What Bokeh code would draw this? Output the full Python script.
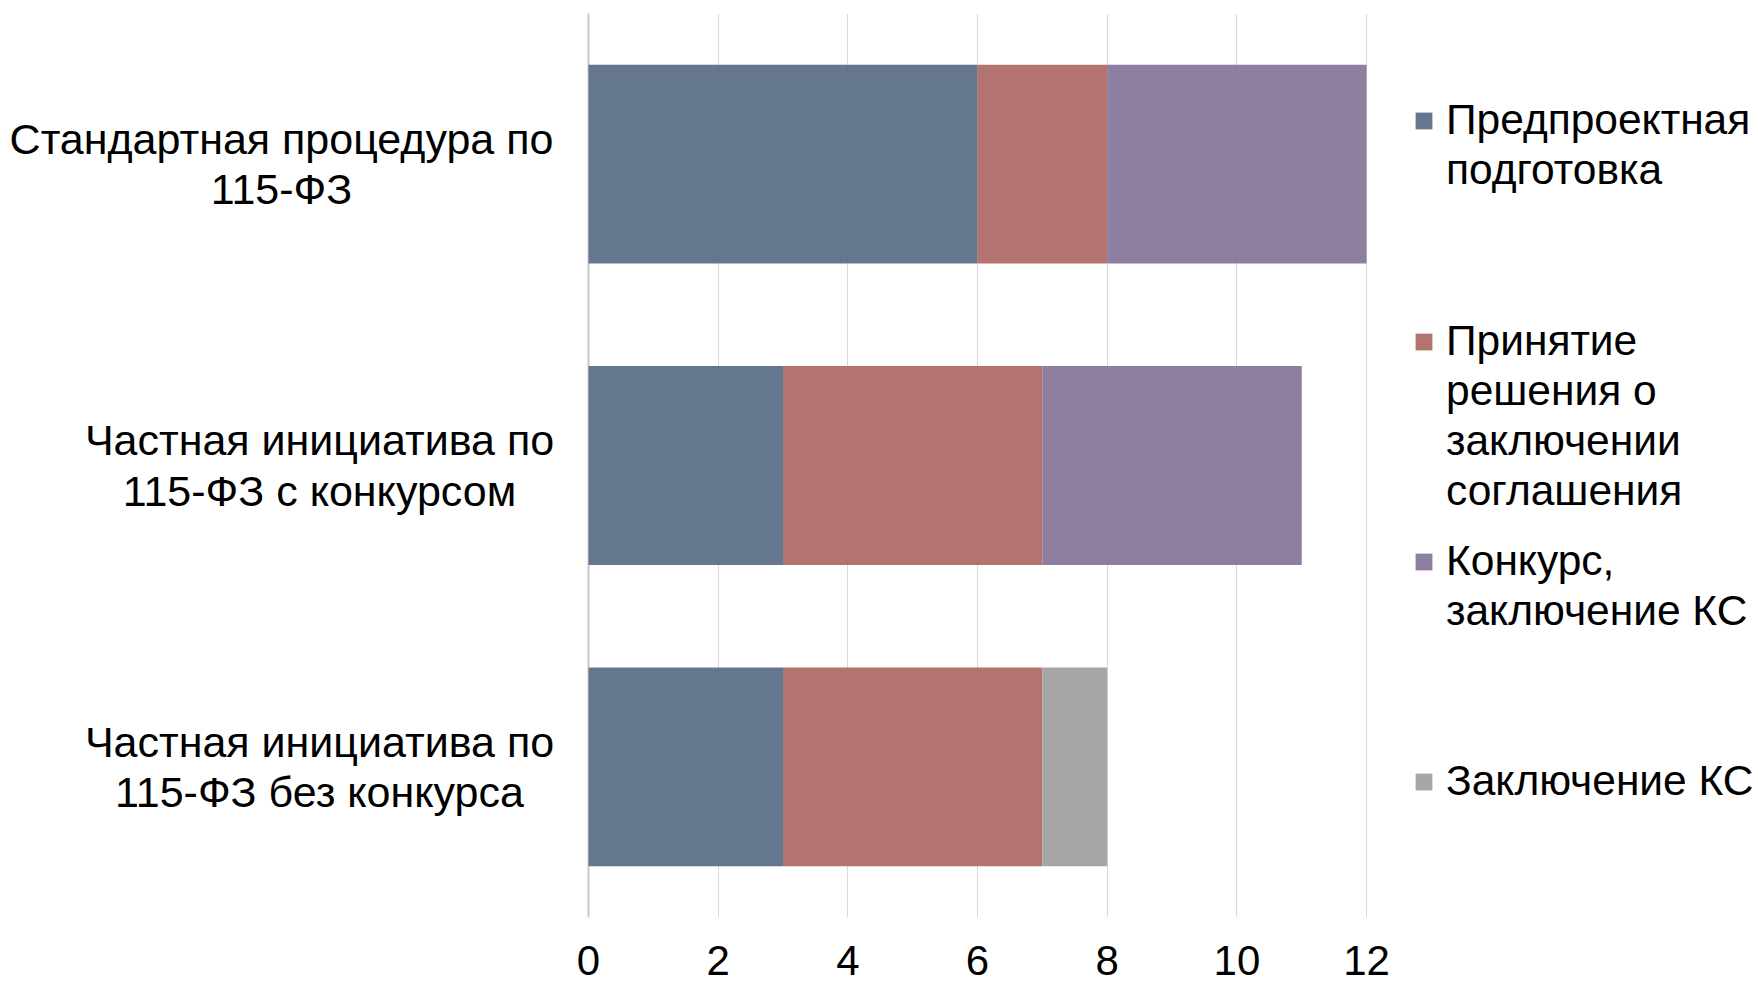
from bokeh.plotting import figure
from bokeh.models import (ColumnDataSource, FactorRange, Range1d, FixedTicker,
                          Legend, LegendItem, Span)
from bokeh.core.properties import value
from bokeh.embed import file_html
from bokeh.resources import INLINE

# ---- data ----
categories = ["Стандартная процедура по\n115-ФЗ",
              "Частная инициатива по\n115-ФЗ с конкурсом",
              "Частная инициатива по\n115-ФЗ без конкурса"]
series_names = ["Предпроектная\nподготовка",
                "Принятие\nрешения о\nзаключении\nсоглашения",
                "Конкурс,\nзаключение КС",
                "Заключение КС"]
predproekt = [6, 3, 3]
prinyatie = [2, 4, 4]
konkurs = [4, 4, 0]
zaklyuchenie = [0, 0, 1]
x_ticks = [0, 2, 4, 6, 8, 10, 12]

# ---- styling / layout ----
colors = ["#5D7088", "#AF6B67", "#88789B", "#A1A1A1"]
keys = ["a", "b", "c", "d"]
FONT = "Liberation Sans"
PX_PER_UNIT = 64.84
W, H = 1758, 987
X0_SCREEN = 588            # screen x of value 0
label_offsets = [-307, -269, -269]   # centre of each category label block, px from value 0
legend_tops = [95, 316, 536, 756]    # top of each legend block (px from canvas top)
FRAME_TOP, FRAME_BOTTOM = 13, 917

src = ColumnDataSource(dict(cat=categories, a=predproekt, b=prinyatie,
                            c=konkurs, d=zaklyuchenie, off=label_offsets))

x_start = -X0_SCREEN / PX_PER_UNIT
x_end = x_start + W / PX_PER_UNIT

p = figure(width=W, height=H, output_backend="svg", toolbar_location=None,
           y_range=FactorRange(*reversed(categories), range_padding=0),
           x_range=Range1d(x_start, x_end),
           min_border_left=0, min_border_right=0, min_border_top=FRAME_TOP,
           min_border_bottom=H - FRAME_BOTTOM)
p.outline_line_color = None
p.background_fill_color = "white"

renderers = p.hbar_stack(keys, y="cat", height=0.66, color=colors, source=src,
                         fill_alpha=0.95, line_color=None)

# category labels (left of the bars)
p.text(x=0, y="cat", text="cat", source=src, x_offset="off",
       text_align="center", text_baseline="middle", text_font=value(FONT),
       text_font_size="43px", text_color="#000000", text_line_height=1.05)

# vertical axis line at 0
p.add_layout(Span(location=0, dimension="height", line_color="#C8C8C8",
                  line_width=2, level="underlay"))

p.yaxis.visible = False

p.xaxis.ticker = FixedTicker(ticks=x_ticks)
p.xaxis.axis_line_color = None
p.xaxis.major_tick_line_color = None
p.xaxis.minor_tick_line_color = None
p.xaxis.major_label_text_font = FONT
p.xaxis.major_label_text_font_size = "42px"
p.xaxis.major_label_text_color = "#000000"
p.xaxis.major_label_standoff = 22

p.xgrid.ticker = FixedTicker(ticks=x_ticks)
p.xgrid.grid_line_color = "#D9D9D9"
p.ygrid.grid_line_color = None

# legend: one block per series, square aligned with the first line
for name, r, top in zip(series_names, renderers, legend_tops):
    lines = name.split("\n")
    items = [LegendItem(label=lines[0], renderers=[r])]
    items += [LegendItem(label=ln, renderers=[]) for ln in lines[1:]]
    height = 50 * len(lines)
    lg = Legend(items=items, location=(1413, FRAME_BOTTOM - top - height),
                label_text_font=FONT, label_text_font_size="42.5px",
                label_text_color="#000000", label_height=50,
                glyph_width=21, glyph_height=21, label_standoff=12,
                spacing=0, border_line_color=None, background_fill_alpha=0,
                padding=0, margin=0)
    p.add_layout(lg)

open("out.html", "w").write(file_html(p, INLINE))
